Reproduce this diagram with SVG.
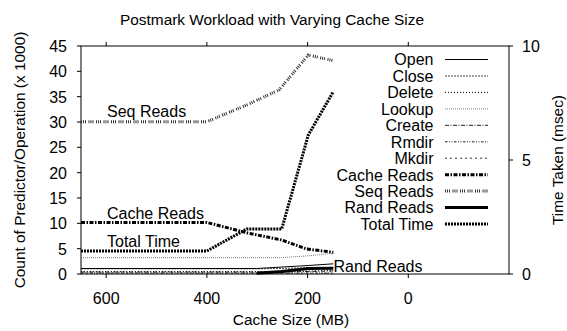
<svg xmlns="http://www.w3.org/2000/svg" width="567" height="331" viewBox="0 0 567 331">
  <style>
    text { font-family: "Liberation Sans", Arial, sans-serif; font-size: 16px; fill: #000; }
    .end { text-anchor: end; }
    .mid { text-anchor: middle; }
    .lbl { font-size: 15.4px; }
    .frame { fill: none; stroke: #000; stroke-width: 1; }
    .tick { stroke: #000; stroke-width: 1; }
    .s { fill: none; stroke-linejoin: miter; }
    .open   { stroke: #000; stroke-width: 1; }
    .close  { stroke: #444; stroke-width: 1; stroke-dasharray: 2 1; }
    .delete { stroke: #000; stroke-width: 1; stroke-dasharray: 1 2; }
    .lookup { stroke: #777; stroke-width: 1; stroke-dasharray: 1 1; }
    .create { stroke: #222; stroke-width: 1; stroke-dasharray: 4 1.5 1 1.5; }
    .rmdir  { stroke: #222; stroke-width: 1; stroke-dasharray: 2.5 1.5 1 1.5 1 1.5; }
    .mkdir  { stroke: #333; stroke-width: 1; stroke-dasharray: 2 3; }
    .cache  { stroke: #000; stroke-width: 3; stroke-dasharray: 4 1.5 1.5 1.5; }
    .seq    { stroke: #333; stroke-width: 3; stroke-dasharray: 1 1 1 1 1 2.5; }
    .rand   { stroke: #000; stroke-width: 3; }
    .total  { stroke: #000; stroke-width: 3; stroke-dasharray: 2 1; }
  </style>

  <!-- title -->
  <text id="title" class="mid lbl" x="272" y="25">Postmark Workload with Varying Cache Size</text>

  <!-- plot frame and ticks -->
  <g id="axes">
    <rect class="frame" x="81" y="46" width="428" height="228"/>
    <g class="tick">
      <!-- left ticks, 0..45 -->
      <path d="M77 46H81M77 71.33H81M77 96.67H81M77 122H81M77 147.33H81M77 172.67H81M77 198H81M77 223.33H81M77 248.67H81M77 274H81"/>
      <!-- right ticks, 0..10 -->
      <path d="M509 46H513M509 160H513M509 274H513"/>
      <!-- bottom and top ticks -->
      <path d="M106.2 274V278M206.9 274V278M307.6 274V278M408.3 274V278"/>
      <path d="M106.2 46V42M206.9 46V42M307.6 46V42M408.3 46V42"/>
    </g>
    <g id="ylabels-left" class="end">
      <text x="67" y="52">45</text>
      <text x="67" y="77.3">40</text>
      <text x="67" y="102.7">35</text>
      <text x="67" y="128">30</text>
      <text x="67" y="153.3">25</text>
      <text x="67" y="178.7">20</text>
      <text x="67" y="204">15</text>
      <text x="67" y="229.3">10</text>
      <text x="67" y="254.7">5</text>
      <text x="67" y="280">0</text>
    </g>
    <g id="ylabels-right">
      <text x="522" y="52">10</text>
      <text x="522" y="166">5</text>
      <text x="522" y="280">0</text>
    </g>
    <g id="xlabels" class="mid">
      <text x="106.2" y="304">600</text>
      <text x="206.9" y="304">400</text>
      <text x="307.6" y="304">200</text>
      <text x="408.3" y="304">0</text>
    </g>
    <text id="xtitle" class="mid lbl" x="291" y="325">Cache Size (MB)</text>
    <text id="ytitle-left" class="mid lbl" transform="translate(25,160) rotate(-90)">Count of Predictor/Operation (x 1000)</text>
    <text id="ytitle-right" class="mid lbl" transform="translate(563,160) rotate(-90)">Time Taken (msec)</text>
  </g>

  <!-- data series -->
  <g id="series">
    <path class="s mkdir"  d="M81 273.3H333.3"/>
    <path class="s rmdir"  d="M81 273H333.3"/>
    <path class="s create" d="M81 272H281.7L333.3 271"/>
    <path class="s delete" d="M81 271.7H281.7L333.3 270.5"/>
    <path class="s close"  d="M81 268.8H256.7L333.3 267.5"/>
    <path class="s open"   d="M81 268.5H256.7L308.3 265.5L333.3 263.8"/>
    <path class="s lookup" d="M81 257.7H281.7L308.3 255.8L333.3 253.3"/>
    <path class="s rand"   d="M256.7 273.3L281.7 271.5L308.3 268.6L333.3 268.3"/>
    <path class="s cache"  d="M81 222.5H206.9L246.7 232.8L281.7 240L306.7 249L333.3 252.3"/>
    <path class="s total"  d="M81 251H206.9L246.7 229H281.7L308.3 135L333.3 91.7"/>
    <path class="s seq"    d="M81 121.7H206.9L246.7 105L279 90L308.3 55L333.3 60.7"/>
  </g>

  <!-- curve labels inside the plot -->
  <g id="curve-labels">
    <text x="107" y="117">Seq Reads</text>
    <text x="107" y="219">Cache Reads</text>
    <text x="107" y="247">Total Time</text>
    <text x="333.5" y="272">Rand Reads</text>
  </g>

  <!-- key -->
  <g id="legend">
    <g class="end">
      <text x="433.5" y="65.3">Open</text>
      <text x="433.5" y="81.8">Close</text>
      <text x="433.5" y="98.2">Delete</text>
      <text x="433.5" y="114.7">Lookup</text>
      <text x="433.5" y="131.1">Create</text>
      <text x="433.5" y="147.6">Rmdir</text>
      <text x="433.5" y="164">Mkdir</text>
      <text x="433.5" y="180.5">Cache Reads</text>
      <text x="433.5" y="196.9">Seq Reads</text>
      <text x="433.5" y="213.4">Rand Reads</text>
      <text x="433.5" y="229.8">Total Time</text>
    </g>
    <path class="s open"   d="M445 59.5H488"/>
    <path class="s close"  d="M445 76H488"/>
    <path class="s delete" d="M445 92.4H488"/>
    <path class="s lookup" d="M445 108.9H488"/>
    <path class="s create" d="M445 125.3H488"/>
    <path class="s rmdir"  d="M445 141.8H488"/>
    <path class="s mkdir"  d="M445 158.2H488"/>
    <path class="s cache"  d="M445 174.7H488"/>
    <path class="s seq"    d="M445 191.1H488"/>
    <path class="s rand"   d="M445 207.6H488"/>
    <path class="s total"  d="M445 224H488"/>
  </g>
</svg>
